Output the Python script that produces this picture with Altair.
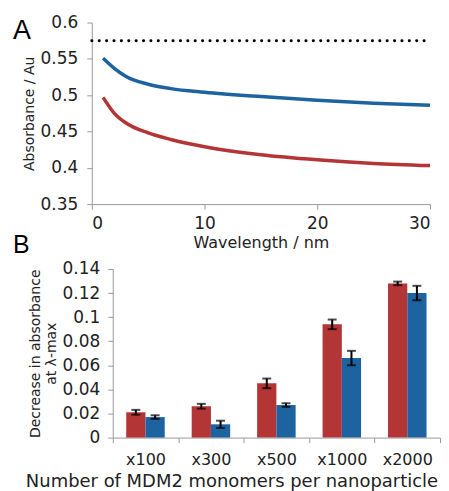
import altair as alt
import pandas as pd

# Panel A data
wavelength = [1, 2, 3, 5, 7, 10, 15, 20, 25, 30]
blue_abs = [0.551, 0.537, 0.526, 0.515, 0.509, 0.504, 0.498, 0.493, 0.489, 0.486]
red_abs = [0.497, 0.475, 0.462, 0.448, 0.439, 0.429, 0.418, 0.411, 0.406, 0.403]
ref_x = [0, 30]
ref_abs = [0.575, 0.575]

# Panel B data
categories = ["x100", "x300", "x500", "x1000", "x2000"]
red_dec = [0.021, 0.026, 0.045, 0.094, 0.128]
red_err = [0.002, 0.002, 0.004, 0.004, 0.0015]
blue_dec = [0.017, 0.011, 0.027, 0.066, 0.120]
blue_err = [0.0015, 0.003, 0.0015, 0.006, 0.006]

RED = "#B33536"
BLUE = "#1D63A0"
FONT = "DejaVu Sans"
AXC = "#999999"
color_scale = alt.Scale(domain=["red", "blue"], range=[RED, BLUE])

n = len(wavelength)
dfA = pd.DataFrame({
    "wl": wavelength * 2,
    "abs": blue_abs + red_abs,
    "series": ["blue"] * n + ["red"] * n,
})
dfRef = pd.DataFrame({"wl": ref_x, "abs": ref_abs})

axisXA = alt.Axis(values=[0, 10, 20, 30], title="Wavelength / nm", grid=False,
                  tickSize=5, labelPadding=6, titlePadding=3,
                  labelFontSize=17, titleFontSize=16, titleFontWeight="normal")
axisYA = alt.Axis(values=[0.35, 0.4, 0.45, 0.5, 0.55, 0.6], format=".2~f",
                  labelOverlap=False, title="Absorbance / Au", grid=False, tickSize=5,
                  labelPadding=9, titlePadding=4, labelFontSize=17, titleFontSize=14,
                  titleFontWeight="normal")
scXA = alt.Scale(domain=[0, 30], nice=False)
scYA = alt.Scale(domain=[0.35, 0.6], nice=False, zero=False)

linesA = alt.Chart(dfA).mark_line(strokeWidth=3.5, interpolate="monotone").encode(
    x=alt.X("wl:Q", scale=scXA, axis=axisXA),
    y=alt.Y("abs:Q", scale=scYA, axis=axisYA),
    color=alt.Color("series:N", scale=color_scale, legend=None),
)
refA = alt.Chart(dfRef).mark_line(color="black", strokeWidth=3, strokeDash=[0.1, 7.3],
                                  strokeCap="round").encode(
    x=alt.X("wl:Q", scale=scXA, axis=axisXA),
    y=alt.Y("abs:Q", scale=scYA, axis=axisYA),
)
labA = alt.Chart(pd.DataFrame({"t": ["A"]})).mark_text(
    align="left", baseline="alphabetic", fontSize=27, font="Liberation Sans", color="black"
).encode(text="t:N", x=alt.value(-79), y=alt.value(17))
labB = alt.Chart(pd.DataFrame({"t": ["B"]})).mark_text(
    align="left", baseline="alphabetic", fontSize=25, font="Liberation Sans", color="black"
).encode(text="t:N", x=alt.value(-79), y=alt.value(231))

panelA = alt.layer(linesA, refA, labA, labB).properties(width=339, height=182)

# Panel B
dfB = pd.DataFrame({
    "cat": categories * 2,
    "val": red_dec + blue_dec,
    "err": red_err + blue_err,
    "series": ["red"] * 5 + ["blue"] * 5,
})
dfB["lo"] = dfB["val"] - dfB["err"]
dfB["hi"] = dfB["val"] + dfB["err"]

axisXB = alt.Axis(title="Number of MDM2 monomers per nanoparticle", labelAngle=0,
                  tickBand="extent", tickSize=5, labelPadding=9, titlePadding=5,
                  titleX=140, titleAlign="center",
                  labelFontSize=16, titleFontSize=18, titleFontWeight="normal")
axisYB = alt.Axis(values=[0, 0.02, 0.04, 0.06, 0.08, 0.1, 0.12, 0.14], format=".2~f",
                  labelOverlap=False, offset=-21,
                  title=["Decrease in absorbance", "at λ-max"], grid=False, tickSize=5,
                  labelPadding=8, titlePadding=4, labelFontSize=17, titleFontSize=14,
                  titleFontWeight="normal")
scXB = alt.Scale(paddingInner=0, paddingOuter=0, range=[21, 349])
scYB = alt.Scale(domain=[0, 0.14], nice=False)
xB = alt.X("cat:N", sort=categories, scale=scXB, axis=axisXB)
xoff = alt.XOffset("series:N", sort=["red", "blue"],
                   scale=alt.Scale(paddingOuter=0.7, paddingInner=0))

bars = alt.Chart(dfB).mark_bar().encode(
    x=xB, y=alt.Y("val:Q", scale=scYB, axis=axisYB), xOffset=xoff,
    color=alt.Color("series:N", scale=color_scale, legend=None),
)
errs = alt.Chart(dfB).mark_rule(color="black", strokeWidth=2).encode(
    x=xB, xOffset=xoff, y=alt.Y("lo:Q", scale=scYB, axis=axisYB), y2="hi:Q")
capsLo = alt.Chart(dfB).mark_tick(color="black", thickness=2, size=9).encode(
    x=xB, xOffset=xoff, y=alt.Y("lo:Q", scale=scYB, axis=axisYB))
capsHi = alt.Chart(dfB).mark_tick(color="black", thickness=2, size=9).encode(
    x=xB, xOffset=xoff, y=alt.Y("hi:Q", scale=scYB, axis=axisYB))

panelB = alt.layer(bars, errs, capsLo, capsHi).properties(width=349, height=169)

chart = alt.vconcat(panelA, panelB, spacing=2).properties(
    padding={"left": 5, "top": 5, "right": 0, "bottom": 0},
).configure_view(stroke=None).configure_axis(
    domainColor=AXC, tickColor=AXC, labelColor="#222", titleColor="#222",
    labelFont=FONT, titleFont=FONT, labelOverlap=False,
)

chart.save("out.html", embed_options={"renderer": "svg", "actions": False})
